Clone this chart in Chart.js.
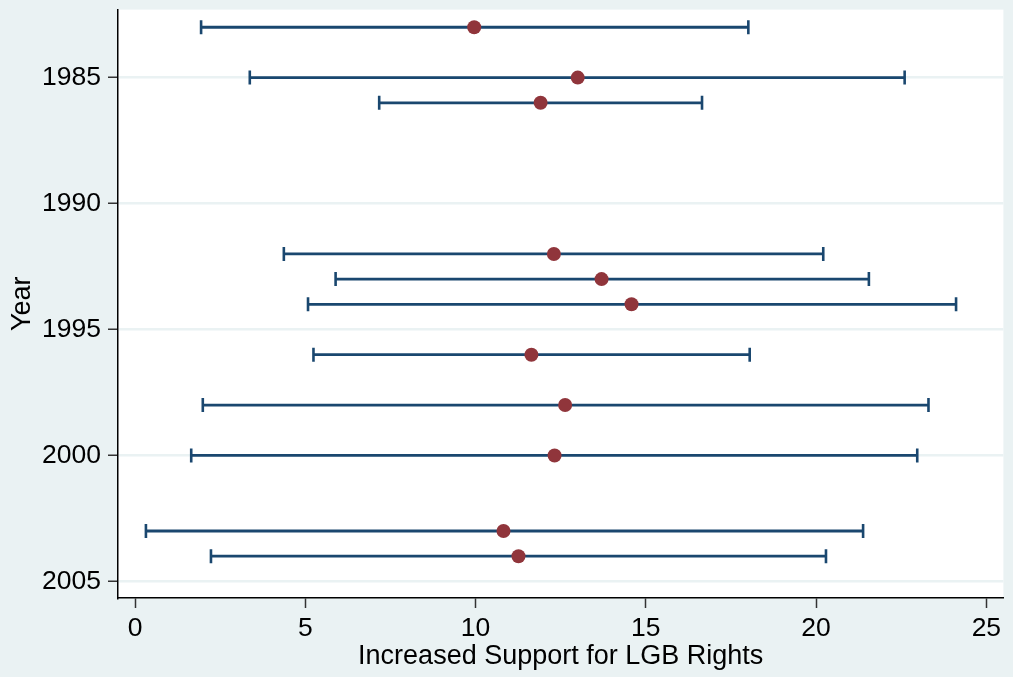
<!DOCTYPE html>
<html>
<head>
<meta charset="utf-8">
<script src="https://cdn.jsdelivr.net/npm/chart.js@4/dist/chart.umd.min.js"></script>
<style>
  html, body { margin: 0; padding: 0; background: #eaf2f3; }
  #wrap { width: 1013px; height: 677px; }
</style>
</head>
<body>
<div id="wrap"><canvas id="ciChart"></canvas></div>
<script>
const years = [1983, 1985, 1986, 1992, 1993, 1994, 1996, 1998, 2000, 2003, 2004];
const estimate = [9.96, 13.0, 11.91, 12.3, 13.7, 14.58, 11.64, 12.63, 12.32, 10.82, 11.26];
const lower = [1.94, 3.37, 7.17, 4.37, 5.89, 5.08, 5.24, 1.99, 1.65, 0.32, 2.23];
const upper = [18.01, 22.6, 16.65, 20.21, 21.55, 24.11, 18.05, 23.3, 22.97, 21.38, 20.29];
const yearTicks = [1985, 1990, 1995, 2000, 2005];
const xTicks = [0, 5, 10, 15, 20, 25];

const navy = "#1a476f";
const maroon = "#90353b";
const bg = "#eaf2f3";
const tickFont = { family: "'Liberation Sans', Arial, sans-serif", size: 26.5 };
const titleFont = { family: "'Liberation Sans', Arial, sans-serif", size: 27 };

// one little line dataset per confidence interval, caps drawn as rotated line points
const ciSets = years.map((yr, i) => ({
  type: "scatter",
  showLine: true,
  data: [
    { x: lower[i], y: yr },
    { x: upper[i], y: yr },
  ],
  borderColor: navy,
  borderWidth: 2.8,
  pointStyle: "line",
  pointRotation: 90,
  pointRadius: 7,
  pointBorderColor: navy,
  pointBorderWidth: 2.6,
  order: 1,
}));

const pointSet = {
  type: "scatter",
  data: years.map((yr, i) => ({ x: estimate[i], y: yr })),
  pointStyle: "circle",
  pointRadius: 7,
  pointBackgroundColor: maroon,
  pointBorderColor: maroon,
  pointBorderWidth: 0,
  order: 0,
};

const background = {
  id: "background",
  beforeDraw(chart) {
    const { ctx, chartArea } = chart;
    ctx.save();
    ctx.fillStyle = bg;
    ctx.fillRect(0, 0, chart.width, chart.height);
    ctx.fillStyle = "#ffffff";
    ctx.fillRect(chartArea.left, chartArea.top, chartArea.right - chartArea.left, chartArea.bottom - chartArea.top);
    ctx.restore();
  },
};

new Chart(document.getElementById("ciChart"), {
  type: "scatter",
  data: { datasets: [pointSet, ...ciSets] },
  plugins: [background],
  options: {
    responsive: true,
    maintainAspectRatio: false,
    animation: false,
    layout: { padding: { top: 8, right: 0, left: 0, bottom: 0 } },
    plugins: {
      legend: { display: false },
      tooltip: { enabled: false },
    },
    scales: {
      x: {
        type: "linear",
        min: -0.5,
        max: 25.5,
        afterBuildTicks: (scale) => {
          scale.ticks = xTicks.map((v) => ({ value: v }));
        },
        afterFit: (scale) => {
          scale.height = 79;
          scale.paddingLeft = 0;
          scale.paddingRight = 0;
        },
        grid: {
          drawOnChartArea: false,
          drawTicks: true,
          tickLength: 10,
          tickColor: "#333333",
          tickWidth: 1.5,
        },
        border: { display: true, color: "#000000", width: 1.5 },
        ticks: {
          color: "#000000",
          font: tickFont,
          padding: 5,
          maxRotation: 0,
          callback: (v) => String(v),
        },
        title: {
          display: true,
          text: "Increased Support for LGB Rights",
          color: "#000000",
          font: titleFont,
          padding: { top: 0, bottom: 4 },
        },
      },
      y: {
        type: "linear",
        reverse: true,
        min: 1982.3,
        max: 2005.66,
        afterBuildTicks: (scale) => {
          scale.ticks = yearTicks.map((v) => ({ value: v }));
        },
        afterFit: (scale) => {
          scale.width = 118;
          scale.paddingTop = 0;
          scale.paddingBottom = 0;
        },
        grid: {
          color: bg,
          lineWidth: 2.5,
          drawTicks: true,
          tickLength: 10,
          tickColor: "#333333",
          tickWidth: 1.5,
        },
        border: { display: true, color: "#000000", width: 1.5 },
        ticks: {
          color: "#000000",
          font: tickFont,
          padding: 7,
          callback: (v) => String(v),
        },
        title: {
          display: true,
          text: "Year",
          color: "#000000",
          font: titleFont,
          padding: { top: 6, bottom: 0 },
        },
      },
    },
  },
});
</script>
</body>
</html>
